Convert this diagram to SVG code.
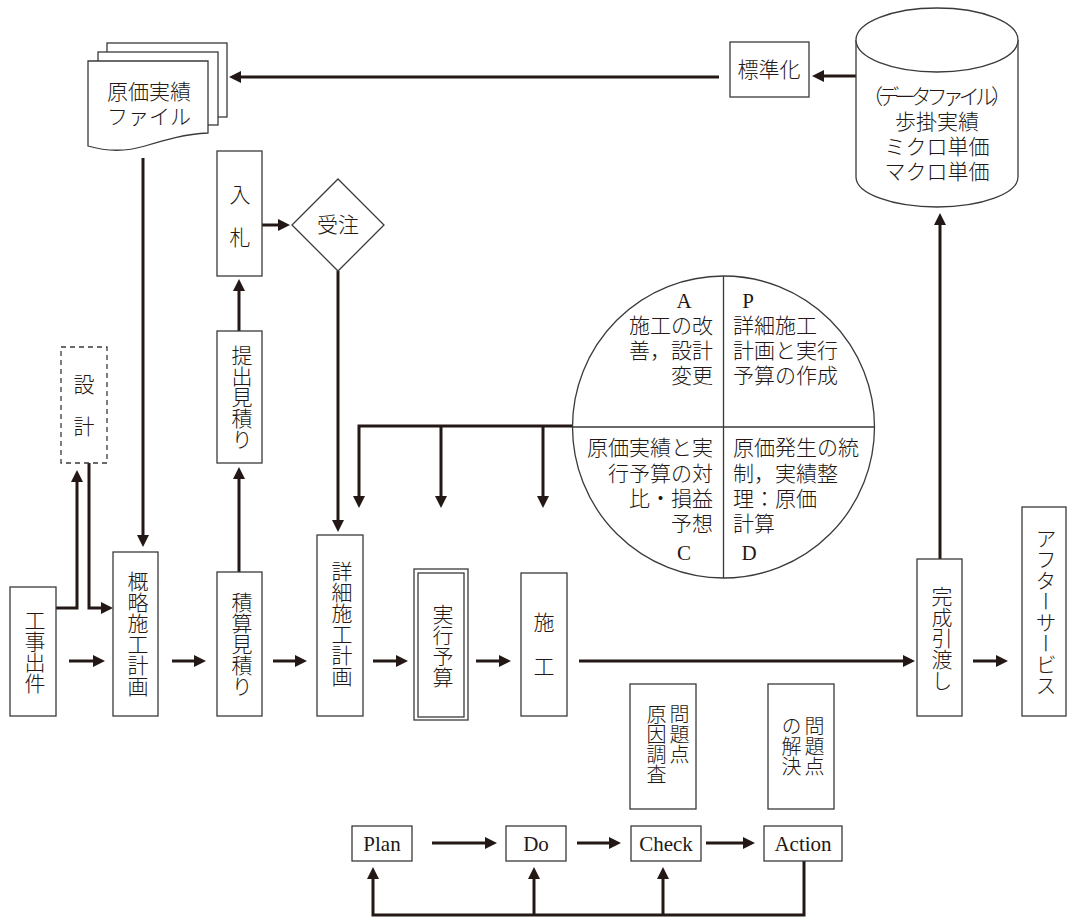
<svg xmlns="http://www.w3.org/2000/svg" width="1068" height="918" viewBox="0 0 1068 918">
<style>
.bx{fill:#fff;stroke:#3a3a3a;stroke-width:1.3}
.dash{fill:#fff;stroke:#3a3a3a;stroke-width:1.3;stroke-dasharray:5,4}
.thin{fill:none;stroke:#3a3a3a;stroke-width:1.3}
.c{fill:none;stroke:#231815;stroke-width:3;marker-end:url(#ah)}
text{font-family:"Liberation Serif","Noto Sans CJK JP",serif;font-size:21px;font-weight:300;fill:#231815;dominant-baseline:central}
.m{text-anchor:middle}
.e{text-anchor:end}
.v{writing-mode:vertical-rl;text-anchor:middle}
.vs{writing-mode:vertical-rl;text-anchor:start;font-size:20px}
</style>
<defs>
<marker id="ah" markerUnits="userSpaceOnUse" markerWidth="12" markerHeight="12" refX="6" refY="6" orient="auto">
<path d="M0,0 L12,6 L0,12 Z" fill="#231815"/>
</marker>
</defs>

<g id="connectors">
<path class="c" d="M856,76 H818"/>
<path class="c" d="M719,77 H235"/>
<path class="c" d="M143,158 V541"/>
<path class="c" d="M56,608 H77 V476"/>
<path class="c" d="M89,463 V608 H107"/>
<path class="c" d="M239,572 V473"/>
<path class="c" d="M239,331 V285"/>
<path class="c" d="M262,225 H284"/>
<path class="c" d="M338,271 V526"/>
<path class="c" d="M572,426 H359 V502"/>
<path class="c" d="M441,426 V502"/>
<path class="c" d="M543,426 V502"/>
<path class="c" d="M69,661 H99"/>
<path class="c" d="M172,661 H200"/>
<path class="c" d="M273,661 H301"/>
<path class="c" d="M373,661 H402"/>
<path class="c" d="M476,661 H505"/>
<path class="c" d="M579,661 H909"/>
<path class="c" d="M973,661 H1002"/>
<path class="c" d="M940,559 V219"/>
<path class="c" d="M432,843 H491"/>
<path class="c" d="M577,843 H615"/>
<path class="c" d="M706,843 H749"/>
<path class="c" d="M804,861 V915 H373 V873"/>
<path class="c" d="M534,915 V873"/>
<path class="c" d="M663,915 V873"/>
</g>

<g id="genka-file">
<rect class="bx" x="107" y="43" width="120" height="74"/>
<rect class="bx" x="98" y="52" width="120" height="73"/>
<path class="bx" d="M88,61 H208 V133 C185,134 165,140 145,146 C125,152 105,151 88,146 Z"/>
<text class="m" x="149" y="92">原価実績</text>
<text class="m" x="149" y="117">ファイル</text>
</g>

<g id="hyojunka">
<rect class="bx" x="730" y="42" width="79" height="55"/>
<text class="m" x="769" y="70">標準化</text>
</g>

<g id="data-file">
<path class="bx" d="M856,40 V177 A81,30 0 0 0 1018,177 V40"/>
<ellipse class="bx" cx="937" cy="40" rx="81" ry="32"/>
<text class="m" x="937" y="97" font-size="19" textLength="150" lengthAdjust="spacing">（データファイル）</text>
<text class="m" x="937" y="122">歩掛実績</text>
<text class="m" x="937" y="147">ミクロ単価</text>
<text class="m" x="937" y="172">マクロ単価</text>
</g>

<g id="nyusatsu">
<rect class="bx" x="217" y="151" width="45" height="125"/>
<text class="m" x="240" y="195">入</text>
<text class="m" x="240" y="238">札</text>
</g>

<g id="juchu">
<path class="bx" d="M338,179 L384,225 L338,271 L292,225 Z"/>
<text class="m" x="338" y="225">受注</text>
</g>

<g id="teishutsu">
<rect class="bx" x="217" y="331" width="45" height="132"/>
<text class="v" x="240" y="397">提出見積り</text>
</g>

<g id="sekkei">
<rect class="dash" x="61" y="347" width="46" height="116"/>
<text class="m" x="84" y="385">設</text>
<text class="m" x="84" y="427">計</text>
</g>

<g id="pdca-circle">
<circle class="thin" cx="723.5" cy="427" r="151" fill="#fff"/>
<path class="thin" d="M723.5,276 V578 M572.5,427 H874.5"/>
<text class="m" x="684" y="301">A</text>
<text class="e" x="713" y="326">施工の改</text>
<text class="e" x="713" y="351">善，設計</text>
<text class="e" x="713" y="376">変更</text>
<text class="m" x="748" y="301">P</text>
<text x="733" y="326">詳細施工</text>
<text x="733" y="351">計画と実行</text>
<text x="733" y="376">予算の作成</text>
<text class="e" x="713" y="448">原価実績と実</text>
<text class="e" x="713" y="474">行予算の対</text>
<text class="e" x="713" y="499">比・損益</text>
<text class="e" x="713" y="524">予想</text>
<text class="m" x="684" y="553">C</text>
<text x="733" y="448">原価発生の統</text>
<text x="733" y="474">制，実績整</text>
<text x="733" y="499">理：原価</text>
<text x="733" y="524">計算</text>
<text class="m" x="749" y="553">D</text>
</g>

<g id="koji-shutsuken">
<rect class="bx" x="10" y="587" width="46" height="129"/>
<text class="v" x="33" y="652">工事出件</text>
</g>

<g id="gairyaku">
<rect class="bx" x="113" y="552" width="45" height="164"/>
<text class="v" x="136" y="634">概略施工計画</text>
</g>

<g id="sekisan">
<rect class="bx" x="217" y="572" width="45" height="144"/>
<text class="v" x="240" y="644">積算見積り</text>
</g>

<g id="shosai">
<rect class="bx" x="317" y="535" width="46" height="181"/>
<text class="v" x="340" y="624">詳細施工計画</text>
</g>

<g id="jikko-yosan">
<rect class="bx" x="414" y="569" width="54" height="151"/>
<rect class="bx" x="418" y="573" width="46" height="144"/>
<text class="v" x="441" y="646">実行予算</text>
</g>

<g id="seko">
<rect class="bx" x="521" y="573" width="46" height="143"/>
<text class="m" x="544" y="623">施</text>
<text class="m" x="544" y="667">工</text>
</g>

<g id="kansei">
<rect class="bx" x="917" y="559" width="45" height="157"/>
<text class="v" x="940" y="638">完成引渡し</text>
</g>

<g id="after-service">
<rect class="bx" x="1022" y="507" width="44" height="209"/>
<text class="v" x="1044" y="612">アフターサービス</text>
</g>

<g id="genin-chosa">
<rect class="bx" x="630" y="684" width="66" height="125"/>
<text class="vs" x="678" y="704">問題点</text>
<text class="vs" x="655" y="704">原因調査</text>
</g>

<g id="kaiketsu">
<rect class="bx" x="768" y="684" width="66" height="125"/>
<text class="vs" x="813" y="716">問題点</text>
<text class="vs" x="790" y="716">の解決</text>
</g>

<g id="plan">
<rect class="bx" x="352" y="826" width="60" height="35"/>
<text class="m" x="382" y="844">Plan</text>
</g>
<g id="do">
<rect class="bx" x="506" y="826" width="60" height="35"/>
<text class="m" x="536" y="844">Do</text>
</g>
<g id="check">
<rect class="bx" x="631" y="826" width="70" height="35"/>
<text class="m" x="666" y="844">Check</text>
</g>
<g id="action">
<rect class="bx" x="764" y="826" width="78" height="35"/>
<text class="m" x="803" y="844">Action</text>
</g>
</svg>
